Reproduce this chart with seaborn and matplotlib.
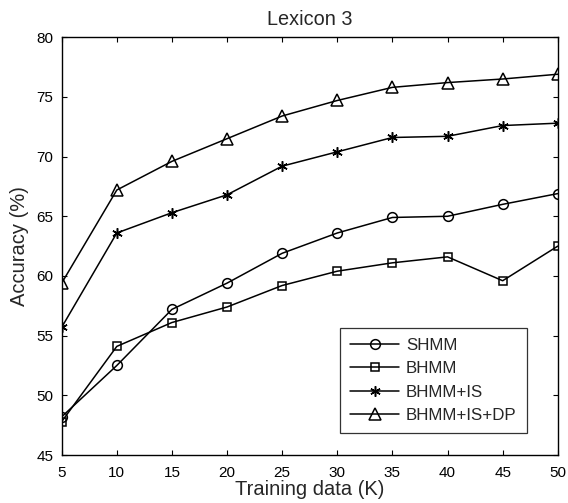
import seaborn as sns
import matplotlib.pyplot as plt
import pandas as pd

# values
training_k = [5, 10, 15, 20, 25, 30, 35, 40, 45, 50]
shmm = [48.2, 52.5, 57.2, 59.4, 61.9, 63.6, 64.9, 65.0, 66.0, 66.9]
bhmm = [47.8, 54.1, 56.1, 57.4, 59.2, 60.4, 61.1, 61.6, 59.6, 62.5]
bhmm_is = [55.7, 63.6, 65.3, 66.8, 69.2, 70.4, 71.6, 71.7, 72.6, 72.8]
bhmm_is_dp = [59.4, 67.2, 69.6, 71.5, 73.4, 74.7, 75.8, 76.2, 76.5, 76.9]
method_names = ['SHMM', 'BHMM', 'BHMM+IS', 'BHMM+IS+DP']

df = pd.DataFrame({'K': training_k * 4,
                   'acc': shmm + bhmm + bhmm_is + bhmm_is_dp,
                   'method': [m for m in method_names for _ in training_k]})

sns.set_style('ticks')
plt.rcParams['font.family'] = ['Liberation Sans', 'DejaVu Sans']

fig = plt.figure(figsize=(5.68, 5.03), dpi=100)
ax = fig.add_axes([0.1086, 0.0954, 0.8734, 0.8306])

# marker + size per method (matlab style: o, square, *, ^)
markers = {'SHMM': ('o', 7), 'BHMM': ('s', 6), 'BHMM+IS': ((6, 2, 0), 7.5), 'BHMM+IS+DP': ('^', 8.5)}
for name in method_names:
    mk, ms = markers[name]
    sns.lineplot(data=df[df['method'] == name], x='K', y='acc', label=name,
                 color='black', marker=mk, markersize=ms, markerfacecolor='none',
                 markeredgecolor='black', markeredgewidth=1.1, linewidth=1.1, ax=ax)

ax.set_xlim(5, 50)
ax.set_ylim(45, 80)
ax.set_xticks(training_k)
ax.set_yticks(range(45, 81, 5))
ax.tick_params(direction='in', top=True, right=True, labelsize=11, length=3.5,
               width=0.8, color='black', labelcolor='black', pad=6)
ax.tick_params(axis='x', pad=8)
for s in ax.spines.values():
    s.set_visible(True)
    s.set_color('black')
    s.set_linewidth(1.0)
ax.set_xlabel('Training data (K)', fontsize=14.5, labelpad=0)
ax.set_ylabel('Accuracy (%)', fontsize=14.5, labelpad=5)
ax.set_title('Lexicon 3', fontsize=14.3, pad=9)

leg = ax.legend(loc='lower right', bbox_to_anchor=(0.9375, 0.0526), borderaxespad=0,
                fontsize=12.2, frameon=True, fancybox=False, edgecolor='black',
                handlelength=2.9, handletextpad=0.4, borderpad=0.6, labelspacing=0.49)
leg.get_frame().set_linewidth(0.9)

fig.savefig('out.png', dpi=100)
